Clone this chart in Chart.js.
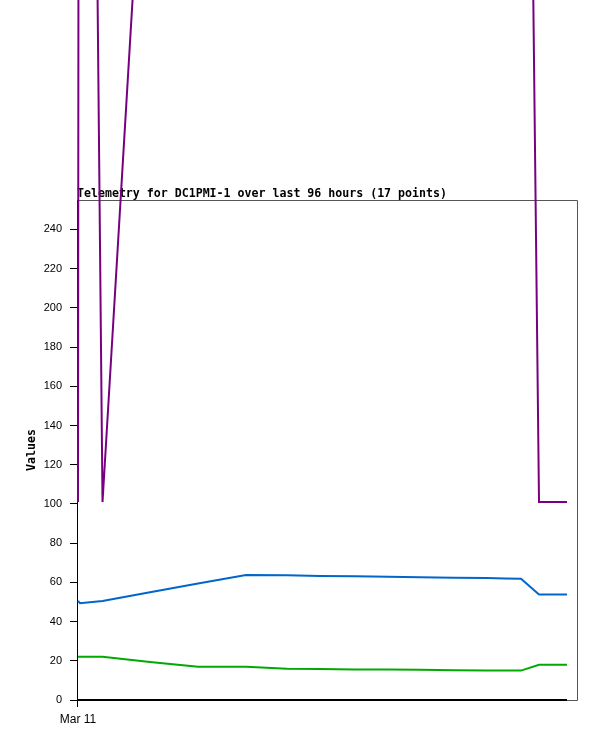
<!DOCTYPE html>
<html>
<head>
<meta charset="utf-8">
<script src="https://cdn.jsdelivr.net/npm/chart.js@4"></script>
<style>
  body { margin: 0; background: #fff; }
  canvas { display: block; }
</style>
</head>
<body>
<canvas id="telemetry" width="597" height="741"></canvas>
<script>
// hours since start of window, one per telemetry packet
const hours = [0.19, 0.57, 4.89, 13.99, 23.19, 32.38, 40.24, 46.56, 53.27, 59.59, 65.73, 72.24, 78.56, 82.01, 85.08, 88.53, 93.89];
// channel values (ch1 goes far above the 255 scale)
const ch1 = [101, 1275, 101, 506, 620, 700, 760, 800, 840, 860, 880, 890, 900, 905, 910, 101, 101];
const ch2 = [50.6, 49.4, 50.5, 54.9, 59.4, 63.8, 63.6, 63.3, 63.1, 62.8, 62.6, 62.3, 62.2, 62.0, 61.8, 53.8, 53.8];
const ch3 = [22.1, 22.1, 22.0, 19.4, 17.0, 17.0, 16.0, 15.8, 15.5, 15.5, 15.4, 15.2, 15.0, 15.0, 15.0, 18.0, 18.0];
const ch4 = [0, 0, 0, 0, 0, 0, 0, 0, 0, 0, 0, 0, 0, 0, 0, 0, 0];
const xTickLabel = 'Mar 11';
const yTicks = [0, 20, 40, 60, 80, 100, 120, 140, 160, 180, 200, 220, 240];
const titleText = 'Telemetry for DC1PMI-1 over last 96 hours (17 points)';

const pts = arr => arr.map((v, i) => ({ x: hours[i], y: v }));
const mono = 'bold 11.6px "DejaVu Sans Mono", monospace';

// frame, title and axis label
const decor = {
  id: 'decor',
  beforeDatasetsDraw(chart) {
    const { ctx, chartArea: a } = chart;
    ctx.save();
    ctx.lineWidth = 1;
    ctx.strokeStyle = '#555';
    ctx.beginPath();
    ctx.moveTo(a.left, a.top + 0.5);
    ctx.lineTo(a.right - 0.5, a.top + 0.5);
    ctx.lineTo(a.right - 0.5, a.bottom + 0.5);
    ctx.lineTo(a.left, a.bottom + 0.5);
    ctx.stroke();
    ctx.strokeStyle = '#000';
    ctx.beginPath();
    ctx.moveTo(a.left + 0.5, a.top);
    ctx.lineTo(a.left + 0.5, a.bottom + 7);
    ctx.stroke();

    ctx.fillStyle = '#000';
    ctx.font = mono;
    ctx.textAlign = 'left';
    ctx.textBaseline = 'alphabetic';
    ctx.fillText(titleText, a.left, a.top - 3);

    ctx.translate(32, (a.top + a.bottom) / 2);
    ctx.rotate(-Math.PI / 2);
    ctx.textAlign = 'center';
    ctx.textBaseline = 'middle';
    ctx.fillText('Values', 0, 0);
    ctx.restore();
  }
};

const line = (data, color) => ({
  data: pts(data),
  borderColor: color,
  borderWidth: 2,
  pointRadius: 0,
  tension: 0,
  fill: false,
  clip: false
});

new Chart(document.getElementById('telemetry'), {
  type: 'line',
  data: {
    datasets: [
      line(ch1, '#780080'),
      line(ch2, '#0066cc'),
      line(ch3, '#00aa00'),
      line(ch4, '#000000')
    ]
  },
  options: {
    responsive: false,
    devicePixelRatio: 1,
    animation: false,
    layout: { padding: { top: 200, right: 19, bottom: 0, left: 0 } },
    plugins: { legend: { display: false }, tooltip: { enabled: false } },
    scales: {
      x: {
        type: 'linear',
        min: 0,
        max: 96,
        afterBuildTicks: s => { s.ticks = [{ value: hours[0] }]; },
        afterFit: s => { s.height = 41; },
        grid: { drawOnChartArea: false, drawTicks: true, tickLength: 7, color: '#000' },
        border: { display: false },
        ticks: {
          padding: 5,
          maxRotation: 0,
          autoSkip: false,
          color: '#000',
          font: { family: '"Liberation Sans", Arial, sans-serif', size: 12 },
          callback: () => xTickLabel
        }
      },
      y: {
        min: 0,
        max: 255,
        afterBuildTicks: s => { s.ticks = yTicks.map(v => ({ value: v })); },
        afterFit: s => { s.width = 77; },
        grid: { drawOnChartArea: false, drawTicks: true, tickLength: 7, color: '#000' },
        border: { display: false },
        ticks: {
          padding: 8,
          color: '#000',
          font: { family: '"Liberation Sans", Arial, sans-serif', size: 11 }
        }
      }
    }
  },
  plugins: [decor]
});
</script>
</body>
</html>
